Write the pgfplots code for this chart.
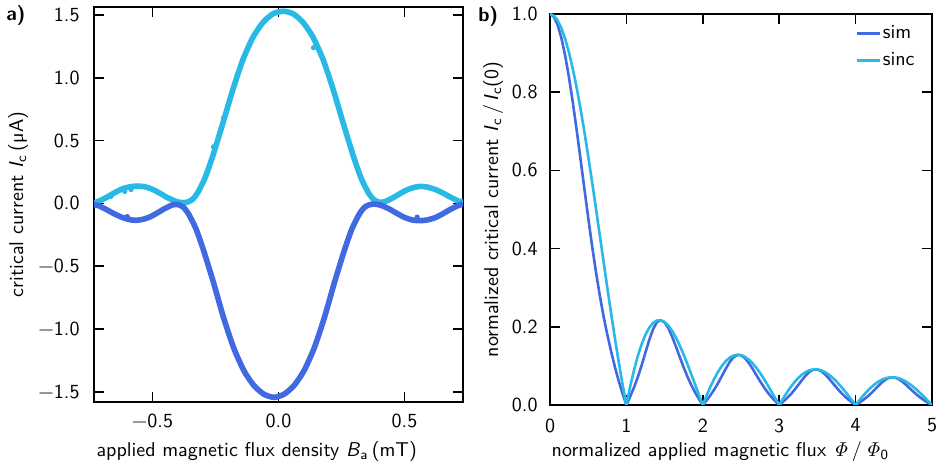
\documentclass[border=0pt]{standalone}
\usepackage{pgfplots}
\pgfplotsset{compat=1.18}
\renewcommand{\familydefault}{\sfdefault}
\definecolor{cdark}{RGB}{65,105,225}
\definecolor{clight}{RGB}{40,185,230}
\begin{document}
\begin{tikzpicture}
\useasboundingbox (0,0) rectangle (468pt,235pt);
\pgfplotsset{
  every axis/.append style={
    scale only axis,
    font=\fontsize{10}{12}\selectfont,
    axis line style={line width=1.1pt},
    major tick length=5pt,
    tick style={black, line width=0.8pt},
    tick align=inside,
  },
}
% ---------------- panel a ----------------
\begin{axis}[
  at={(47pt,34pt)}, anchor=south west,
  width=184.5pt, height=197.5pt,
  xmin=-0.732, xmax=0.732, ymin=-1.582, ymax=1.564,
  xtick={-0.5,0,0.5}, xticklabels={−0.5,0.0,0.5},
  ytick={-1.5,-1,-0.5,0,0.5,1,1.5},
  yticklabels={−1.5,−1.0,−0.5,0.0,0.5,1.0,1.5},
  xticklabel style={yshift=-2.2pt},
  yticklabel style={xshift=-3.7pt},
  xlabel={applied magnetic flux density \textit{B}\textsubscript{a}\,(mT)},
  xlabel style={at={(axis description cs:0.441,0)}, anchor=base, yshift=-27.5pt},
  ylabel={critical current \textit{I}\textsubscript{c}\,(µA)},
  ylabel style={at={(axis description cs:-0.1924,0.5)}, rotate=0, anchor=base},
]
\addplot[clight, line width=2.8pt, smooth, tension=0.4, line join=round] coordinates {
(-0.732,0.004) (-0.71,0.02) (-0.68,0.05) (-0.65,0.085) (-0.62,0.115) (-0.59,0.132)
(-0.56,0.138) (-0.53,0.132) (-0.50,0.112) (-0.47,0.08) (-0.44,0.045) (-0.41,0.018)
(-0.385,0.006) (-0.362,0.01) (-0.342,0.03) (-0.322,0.08) (-0.292,0.20) (-0.262,0.37)
(-0.222,0.63) (-0.182,0.90) (-0.142,1.14) (-0.102,1.32) (-0.062,1.44) (-0.022,1.51)
(0.018,1.53) (0.058,1.51) (0.098,1.44) (0.138,1.32) (0.178,1.14) (0.218,0.90)
(0.258,0.63) (0.298,0.37) (0.328,0.20) (0.358,0.08) (0.378,0.03) (0.398,0.01)
(0.42,0.012) (0.45,0.04) (0.48,0.075) (0.51,0.108) (0.54,0.128) (0.565,0.135)
(0.59,0.13) (0.62,0.112) (0.65,0.085) (0.68,0.052) (0.71,0.022) (0.732,0.008)
};
\addplot[cdark, line width=2.8pt, smooth, tension=0.4, line join=round] coordinates {
(-0.732,-0.008) (-0.71,-0.022) (-0.68,-0.052) (-0.65,-0.085) (-0.62,-0.112) (-0.59,-0.13)
(-0.565,-0.135) (-0.54,-0.128) (-0.51,-0.108) (-0.48,-0.075) (-0.45,-0.04) (-0.42,-0.012)
(-0.398,-0.01) (-0.378,-0.03) (-0.358,-0.08) (-0.328,-0.20) (-0.298,-0.37) (-0.258,-0.63)
(-0.218,-0.91) (-0.178,-1.15) (-0.138,-1.33) (-0.098,-1.45) (-0.058,-1.52) (-0.018,-1.545)
(0.022,-1.52) (0.062,-1.45) (0.102,-1.33) (0.142,-1.15) (0.182,-0.91) (0.222,-0.63)
(0.262,-0.37) (0.292,-0.20) (0.322,-0.08) (0.342,-0.03) (0.362,-0.01) (0.385,-0.006)
(0.41,-0.018) (0.44,-0.045) (0.47,-0.08) (0.50,-0.112) (0.53,-0.132) (0.56,-0.138)
(0.59,-0.132) (0.62,-0.115) (0.65,-0.085) (0.68,-0.05) (0.71,-0.02) (0.732,-0.004)
};
\addplot[only marks, mark=*, mark size=1.1pt, clight] coordinates {
(-0.665,0.055) (-0.61,0.095) (-0.585,0.11) (-0.218,0.68) (-0.258,0.45) (0.139,1.24)
};
\addplot[only marks, mark=*, mark size=1.1pt, cdark] coordinates {
(-0.60,-0.105) (0.55,-0.11)
};
\end{axis}
\node[anchor=base west, inner sep=0pt, font=\bfseries\fontsize{10}{12}\selectfont] at (3pt,224.5pt) {a)};
% ---------------- panel b ----------------
\begin{axis}[
  at={(275pt,32.5pt)}, anchor=south west,
  width=191pt, height=195.5pt,
  xmin=0, xmax=5, ymin=0, ymax=1,
  xtick={0,1,2,3,4,5}, xticklabels={0,1,2,3,4,5},
  ytick={0,0.2,0.4,0.6,0.8,1},
  yticklabels={0.0,0.2,0.4,0.6,0.8,1.0},
  xticklabel style={yshift=-3.2pt},
  yticklabel style={xshift=-2.7pt},
  xlabel={normalized applied magnetic flux $\mathit{\Phi}$\,/\,$\mathit{\Phi}$\textsubscript{0}},
  xlabel style={at={(axis description cs:0.446,0)}, anchor=base, yshift=-26pt},
  ylabel={normalized critical current \textit{I}\textsubscript{c}\,/\,\textit{I}\textsubscript{c}(0)},
  ylabel style={at={(axis description cs:-0.1361,0.5)}, anchor=base},
  legend cell align=left,
  legend style={draw=none, fill=none, at={(axis description cs:1,1)}, anchor=north east,
    xshift=-7.5pt, yshift=-4.5pt, inner sep=0pt, row sep=3.5pt,
    nodes={inner sep=1pt}},
  legend image code/.code={\draw[#1] (0pt,0pt) -- (11.5pt,0pt);},
]
\addplot[cdark, line width=1.3pt, line join=round] coordinates {
(0,1) (0.05,0.993) (0.1,0.972) (0.15,0.938) (0.2,0.892) (0.25,0.836) (0.3,0.772)
(0.35,0.702) (0.4,0.628) (0.45,0.553) (0.5,0.479) (0.55,0.408) (0.6,0.342)
(0.65,0.282) (0.7,0.228) (0.75,0.18) (0.8,0.137) (0.85,0.097) (0.9,0.061)
(0.95,0.029) (1,0)
(1.05,0.0221) (1.1,0.0452) (1.15,0.0716) (1.2,0.1018) (1.25,0.1347) (1.3,0.167)
(1.35,0.1944) (1.4,0.2123) (1.45,0.2165) (1.5,0.2114) (1.55,0.1961) (1.6,0.1742)
(1.65,0.1486) (1.7,0.1217) (1.75,0.0961) (1.8,0.072) (1.85,0.0506) (1.9,0.0318)
(1.95,0.0152) (2,0)
(2.05,0.0121) (2.1,0.025) (2.15,0.0395) (2.2,0.056) (2.25,0.0742) (2.3,0.0926)
(2.35,0.1093) (2.4,0.1218) (2.45,0.128) (2.5,0.1271) (2.55,0.1202) (2.6,0.1083)
(2.65,0.0933) (2.7,0.0768) (2.75,0.0608) (2.8,0.0457) (2.85,0.0321) (2.9,0.0202)
(2.95,0.0096) (3,0)
(3.05,0.0083) (3.1,0.0172) (3.15,0.0272) (3.2,0.0387) (3.25,0.0513) (3.3,0.0642)
(3.35,0.0762) (3.4,0.0855) (3.45,0.0906) (3.5,0.0909) (3.55,0.0865) (3.6,0.0785)
(3.65,0.068) (3.7,0.0562) (3.75,0.0446) (3.8,0.0335) (3.85,0.0235) (3.9,0.0148)
(3.95,0.0071) (4,0)
(4.05,0.0063) (4.1,0.013) (4.15,0.0207) (4.2,0.0295) (4.25,0.0392) (4.3,0.0493)
(4.35,0.0587) (4.4,0.066) (4.45,0.0703) (4.5,0.0707) (4.55,0.0675) (4.6,0.0614)
(4.65,0.0534) (4.7,0.0442) (4.75,0.0352) (4.8,0.0265) (4.85,0.0187) (4.9,0.0118)
(4.95,0.0056) (5,0)
};
\addlegendentry{sim}
\addplot[clight, line width=1.3pt, line join=round] coordinates {
(0,1) (0.05,0.9959) (0.1,0.9836) (0.15,0.9634) (0.2,0.9355) (0.25,0.9003) (0.3,0.8584)
(0.35,0.8103) (0.4,0.7568) (0.45,0.6986) (0.5,0.6366) (0.55,0.5716) (0.6,0.5046)
(0.65,0.4363) (0.7,0.3679) (0.75,0.3001) (0.8,0.2339) (0.85,0.17) (0.9,0.1093)
(0.95,0.0524) (1,0)
(1.05,0.0474) (1.1,0.0894) (1.15,0.1257) (1.2,0.1559) (1.25,0.1801) (1.3,0.1981)
(1.35,0.2101) (1.4,0.2162) (1.45,0.2168) (1.5,0.2122) (1.55,0.2028) (1.6,0.1892)
(1.65,0.1719) (1.7,0.1515) (1.75,0.1286) (1.8,0.1039) (1.85,0.0781) (1.9,0.0518)
(1.95,0.0255) (2,0)
(2.05,0.0243) (2.1,0.0468) (2.15,0.0672) (2.2,0.085) (2.25,0.1) (2.3,0.112)
(2.35,0.1207) (2.4,0.1261) (2.45,0.1283) (2.5,0.1273) (2.55,0.1233) (2.6,0.1164)
(2.65,0.107) (2.7,0.0954) (2.75,0.0818) (2.8,0.0668) (2.85,0.0507) (2.9,0.0339)
(2.95,0.0169) (3,0)
(3.05,0.0163) (3.1,0.0317) (3.15,0.0459) (3.2,0.0585) (3.25,0.0693) (3.3,0.078)
(3.35,0.0847) (3.4,0.089) (3.45,0.0911) (3.5,0.0909) (3.55,0.0886) (3.6,0.0841)
(3.65,0.0777) (3.7,0.0696) (3.75,0.06) (3.8,0.0492) (3.85,0.0375) (3.9,0.0252)
(3.95,0.0126) (4,0)
(4.05,0.0123) (4.1,0.024) (4.15,0.0348) (4.2,0.0445) (4.25,0.053) (4.3,0.0599)
(4.35,0.0652) (4.4,0.0688) (4.45,0.0707) (4.5,0.0707) (4.55,0.0691) (4.6,0.0658)
(4.65,0.061) (4.7,0.0548) (4.75,0.0474) (4.8,0.039) (4.85,0.0298) (4.9,0.0201)
(4.95,0.0101) (5,0)
};
\addlegendentry{sinc}
\end{axis}
\node[anchor=base west, inner sep=0pt, font=\bfseries\fontsize{10}{12}\selectfont] at (239pt,224pt) {b)};
\end{tikzpicture}
\end{document}
